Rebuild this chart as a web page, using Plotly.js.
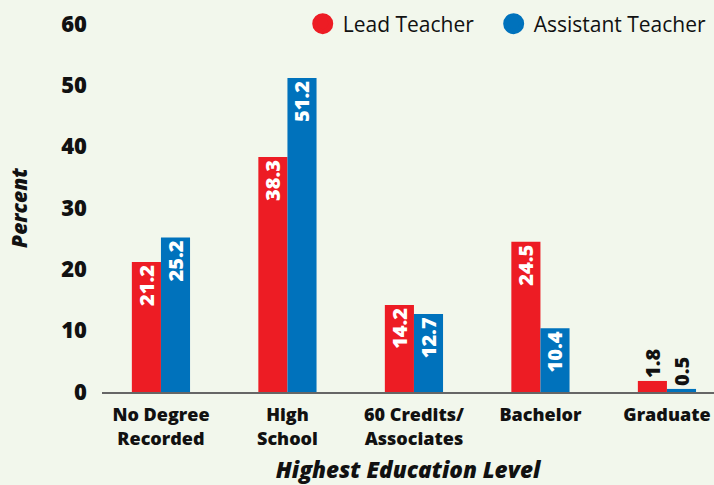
<!DOCTYPE html>
<html>
<head>
<meta charset="utf-8">
<script src="https://cdn.plot.ly/plotly-3.0.1.min.js"></script>
<style>html,body{margin:0;padding:0;background:#F2F7EC;}#chart{width:714px;height:485px;}</style>
</head>
<body>
<div id="chart"></div>
<script>
const categories = ["No Degree<br>Recorded", "High<br>School", "60 Credits/<br>Associates", "Bachelor", "Graduate"];
const leadTeacher = [21.2, 38.3, 14.2, 24.5, 1.8];
const assistantTeacher = [25.2, 51.2, 12.7, 10.4, 0.5];
const seriesNames = ["Lead Teacher", "Assistant Teacher"];
const colors = ["#ED1C24", "#0072BC"];
const yTicks = [0, 10, 20, 30, 40, 50, 60];

const FONT = "Open Sans, Noto Sans, sans-serif";

function posFor(vals) { return vals.map(v => v < 5 ? "outside" : "inside"); }

function barTrace(vals, i) {
  return {
    type: "bar", x: categories, y: vals, name: seriesNames[i],
    marker: {color: colors[i], line: {width: 0}},
    text: vals.map(v => v.toFixed(1)),
    textposition: posFor(vals),
    textangle: -90,
    insidetextanchor: "end",
    constraintext: "none",
    cliponaxis: false,
    insidetextfont: {family: FONT, size: 20, color: "#FFFFFF", weight: 800},
    outsidetextfont: {family: FONT, size: 20, color: "#111111", weight: 800},
    showlegend: false,
    hoverinfo: "x+y"
  };
}

function legendTrace(i, legendId) {
  return {
    type: "scatter", mode: "markers", x: [null], y: [null], name: seriesNames[i],
    marker: {color: colors[i], size: 24, symbol: "circle", line: {color: colors[i], width: 5}},
    showlegend: true, hoverinfo: "skip", legend: legendId
  };
}

const data = [barTrace(leadTeacher, 0), barTrace(assistantTeacher, 1), legendTrace(0, "legend"), legendTrace(1, "legend2")];

const legendBase = {
  orientation: "h", xanchor: "left", y: 1.0, yanchor: "middle",
  bgcolor: "rgba(0,0,0,0)",
  font: {family: FONT, size: 21, color: "#111111"},
  itemwidth: 30
};

const layout = {
  width: 714, height: 485,
  paper_bgcolor: "#F2F7EC", plot_bgcolor: "#F2F7EC",
  margin: {l: 102, r: 0, t: 24, b: 93},
  barmode: "group", bargap: 0.54, bargroupgap: 0,
  font: {family: FONT, color: "#111111"},
  xaxis: {
    type: "category", range: [-0.466, 4.372],
    showline: true, linecolor: "#666666", linewidth: 1.5,
    ticks: "", showgrid: false, zeroline: false,
    ticklabelstandoff: 6,
    tickfont: {family: FONT, size: 18, color: "#111111", weight: 800},
    title: {text: "Highest Education Level", standoff: 18,
      font: {family: FONT, size: 22.5, color: "#111111", weight: 800, style: "italic"}}
  },
  yaxis: {
    range: [0, 60], tickvals: yTicks, ticktext: yTicks.map(String),
    showline: false, showgrid: false, zeroline: false, ticks: "",
    ticklabelstandoff: 14,
    tickfont: {family: FONT, size: 22, color: "#111111", weight: 800},
    title: {text: "Percent", standoff: 27,
      font: {family: FONT, size: 21, color: "#111111", weight: 800, style: "italic"}}
  },
  legend: Object.assign({}, legendBase, {x: 0.328}),
  legend2: Object.assign({}, legendBase, {x: 0.640}),
  showlegend: true
};

Plotly.newPlot("chart", data, layout, {displayModeBar: false, staticPlot: true});
</script>
</body>
</html>
